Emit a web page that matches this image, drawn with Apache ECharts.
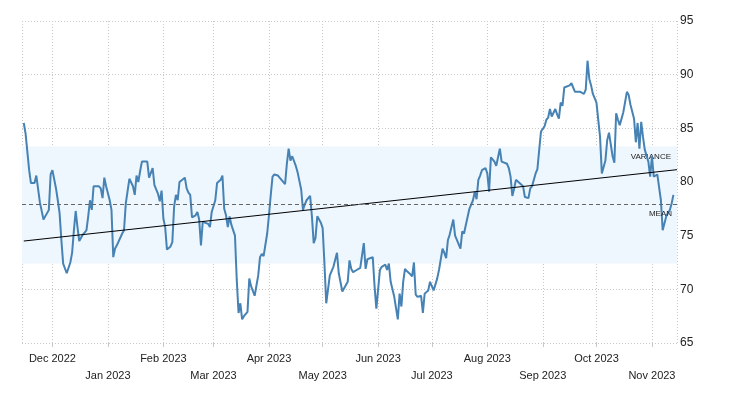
<!DOCTYPE html>
<html>
<head>
<meta charset="utf-8">
<script src="https://cdn.jsdelivr.net/npm/echarts@6/dist/echarts.min.js"></script>
<style>html,body{margin:0;padding:0;background:#fff;}#chart{width:730px;height:400px;}</style>
</head>
<body>
<div id="chart"></div>
<script>
const monthNames = ['Jan','Feb','Mar','Apr','May','Jun','Jul','Aug','Sep','Oct','Nov','Dec'];
const yTicks = [65, 70, 75, 80, 85, 90, 95];

const dates = [
'2022-11-15','2022-11-16','2022-11-18','2022-11-19','2022-11-21','2022-11-22','2022-11-24','2022-11-25','2022-11-26','2022-11-28',
'2022-11-29','2022-11-30','2022-12-01','2022-12-03','2022-12-04','2022-12-05','2022-12-06','2022-12-07','2022-12-09','2022-12-11',
'2022-12-12','2022-12-13','2022-12-14','2022-12-15','2022-12-16','2022-12-18','2022-12-20','2022-12-21','2022-12-22','2022-12-23',
'2022-12-24','2022-12-27','2022-12-28','2022-12-29','2022-12-30','2022-12-31','2023-01-02','2023-01-03','2023-01-04','2023-01-05',
'2023-01-06','2023-01-09','2023-01-10','2023-01-11','2023-01-13','2023-01-15','2023-01-16','2023-01-17','2023-01-18','2023-01-19',
'2023-01-20','2023-01-23','2023-01-24','2023-01-25','2023-01-26','2023-01-27','2023-01-29','2023-01-30','2023-01-31','2023-02-01',
'2023-02-02','2023-02-03','2023-02-05','2023-02-06','2023-02-07','2023-02-08','2023-02-09','2023-02-10','2023-02-13','2023-02-14',
'2023-02-15','2023-02-16','2023-02-17','2023-02-19','2023-02-20','2023-02-21','2023-02-22','2023-02-23','2023-02-24','2023-02-26',
'2023-02-27','2023-02-28','2023-03-02','2023-03-03','2023-03-05','2023-03-06','2023-03-07','2023-03-08','2023-03-09','2023-03-10',
'2023-03-11','2023-03-13','2023-03-14','2023-03-15','2023-03-16','2023-03-17','2023-03-18','2023-03-20','2023-03-21','2023-03-22',
'2023-03-24','2023-03-26','2023-03-27','2023-03-28','2023-03-29','2023-03-31','2023-04-01','2023-04-02','2023-04-03','2023-04-04',
'2023-04-06','2023-04-08','2023-04-10','2023-04-11','2023-04-12','2023-04-13','2023-04-14','2023-04-16','2023-04-17','2023-04-18',
'2023-04-19','2023-04-20','2023-04-21','2023-04-22','2023-04-24','2023-04-25','2023-04-26','2023-04-27','2023-04-28','2023-04-30',
'2023-05-01','2023-05-02','2023-05-03','2023-05-04','2023-05-05','2023-05-07','2023-05-09','2023-05-10','2023-05-12','2023-05-14',
'2023-05-15','2023-05-16','2023-05-17','2023-05-18','2023-05-20','2023-05-22','2023-05-24','2023-05-25','2023-05-26','2023-05-27',
'2023-05-29','2023-05-30','2023-05-31','2023-06-02','2023-06-03','2023-06-05','2023-06-06','2023-06-07','2023-06-08','2023-06-10',
'2023-06-12','2023-06-13','2023-06-14','2023-06-15','2023-06-16','2023-06-17','2023-06-19','2023-06-20','2023-06-21','2023-06-22',
'2023-06-23','2023-06-25','2023-06-26','2023-06-27','2023-06-29','2023-06-30','2023-07-01','2023-07-02','2023-07-04','2023-07-05',
'2023-07-06','2023-07-07','2023-07-08','2023-07-09','2023-07-10','2023-07-11','2023-07-13','2023-07-14','2023-07-15','2023-07-17',
'2023-07-18','2023-07-19','2023-07-20','2023-07-22','2023-07-24','2023-07-25','2023-07-26','2023-07-27','2023-07-28','2023-07-29',
'2023-07-31','2023-08-01','2023-08-02','2023-08-03','2023-08-05','2023-08-06','2023-08-07','2023-08-08','2023-08-09','2023-08-10',
'2023-08-12','2023-08-13','2023-08-14','2023-08-15','2023-08-16','2023-08-17','2023-08-19','2023-08-21','2023-08-22','2023-08-24',
'2023-08-25','2023-08-26','2023-08-27','2023-08-28','2023-08-29','2023-08-30','2023-08-31','2023-09-02','2023-09-03','2023-09-04',
'2023-09-05','2023-09-06','2023-09-08','2023-09-09','2023-09-10','2023-09-11','2023-09-12','2023-09-13','2023-09-16','2023-09-17',
'2023-09-18','2023-09-19','2023-09-22','2023-09-24','2023-09-25','2023-09-26','2023-09-27','2023-09-28','2023-09-29','2023-10-01',
'2023-10-02','2023-10-03','2023-10-04','2023-10-06','2023-10-07','2023-10-08','2023-10-10','2023-10-11','2023-10-12','2023-10-13',
'2023-10-14','2023-10-15','2023-10-16','2023-10-18','2023-10-19','2023-10-20','2023-10-22','2023-10-23','2023-10-24','2023-10-25',
'2023-10-26','2023-10-27','2023-10-28','2023-10-30','2023-10-31','2023-11-01','2023-11-02','2023-11-04','2023-11-05','2023-11-06',
'2023-11-07','2023-11-08','2023-11-09','2023-11-11','2023-11-12','2023-11-13'
];

const values = [
85.5,84.5,81.1,79.9,79.9,80.6,78.1,78.0,76.5,77.1,
77.4,80.7,81.1,79.4,78.3,77.1,74.6,72.4,71.5,72.5,
73.4,75.5,77.3,75.8,74.5,75.1,75.5,76.8,78.3,77.4,
79.6,79.6,79.4,78.5,80.4,79.6,78.3,77.4,73.0,73.8,
74.1,75.2,75.5,78.0,80.3,79.6,78.8,80.6,80.0,81.0,
81.9,81.9,80.4,80.3,81.3,79.7,78.9,78.2,79.2,76.6,
75.8,73.7,74.0,74.4,77.7,78.8,78.3,80.0,80.4,79.4,
79.0,78.8,76.7,76.9,77.2,76.5,74.1,76.3,76.4,76.1,
75.8,77.2,78.3,79.9,80.2,80.6,77.5,76.9,75.8,76.8,
76.0,75.0,70.9,67.8,68.7,67.2,67.5,67.9,71.0,70.3,
69.4,71.3,73.0,73.3,73.1,75.2,76.9,78.8,80.5,80.7,
80.6,80.2,79.8,81.7,83.1,82.0,82.4,81.5,80.9,80.9,
79.3,77.4,77.9,78.3,78.7,76.8,74.3,74.8,76.8,76.2,
75.7,72.4,68.7,68.6,71.3,72.1,73.4,71.5,69.8,70.4,
70.7,72.7,71.9,71.6,71.8,72.0,74.3,71.9,72.8,72.9,
73.0,70.3,68.2,71.8,72.1,72.3,71.8,72.4,70.7,69.3,
67.2,69.6,68.4,70.7,71.9,71.7,71.4,71.2,72.5,69.5,
69.3,69.4,67.8,69.6,69.9,70.7,70.3,69.9,71.0,71.8,
71.9,73.8,73.4,72.9,74.6,75.1,76.5,75.0,74.6,73.8,
75.4,75.2,76.0,77.5,78.3,79.1,78.4,80.2,80.6,81.1,
81.3,80.8,79.1,82.3,81.9,81.5,82.3,83.1,81.9,82.0,
81.7,81.3,80.5,78.7,79.4,80.2,79.9,79.6,78.6,78.5,
79.4,79.6,79.7,80.8,81.2,83.0,84.7,85.2,85.8,86.0,
86.8,86.1,86.8,86.3,85.9,87.4,87.1,88.8,89.0,89.2,
89.2,88.4,88.4,88.2,88.6,91.3,89.6,89.0,88.2,87.4,
87.5,84.2,80.8,82.0,83.9,84.6,82.4,81.8,86.4,85.8,
85.3,85.2,86.5,88.4,88.1,87.2,85.9,83.7,85.5,83.1,
85.6,84.2,83.0,81.9,80.5,82.4,80.5,80.7,80.8,78.3,
75.5,75.4,76.8,77.4,78.0,78.8
];

const trendDates = ['2022-11-15', '2023-11-15'];
const trendValues = [74.5, 81.15];
const meanValue = 77.9;
const varianceLow = 72.4;
const varianceHigh = 83.3;

const chart = echarts.init(document.getElementById('chart'), null, {renderer: 'canvas'});
const fontFam = '"Liberation Sans", Arial, sans-serif';

chart.setOption({
  animation: false,
  backgroundColor: '#ffffff',
  grid: {left: 22, right: 53, top: 21, bottom: 57, containLabel: false, outerBoundsMode: 'none'},
  xAxis: {
    type: 'time',
    min: '2022-11-14',
    max: '2023-11-15',
    splitNumber: 12,
    minInterval: 28 * 86400000,
    maxInterval: 31 * 86400000,
    axisLine: {show: false},
    axisTick: {show: true, length: 4, lineStyle: {color: '#c8c8c8'}},
    splitLine: {show: true, lineStyle: {color: '#c8c8c8', type: [1, 2], width: 1}},
    axisLabel: {
      color: '#222',
      fontSize: 11,
      fontFamily: fontFam,
      margin: 7,
      lineHeight: 17,
      showMinLabel: false,
      showMaxLabel: false,
      formatter: function (val) {
        const d = new Date(val);
        const m = d.getMonth();
        const txt = monthNames[m] + ' ' + d.getFullYear();
        return (m % 2 === 0 ? '\n' : '') + txt;
      }
    }
  },
  yAxis: {
    type: 'value',
    position: 'right',
    min: yTicks[0],
    max: yTicks[yTicks.length - 1],
    interval: 5,
    axisLine: {show: false},
    axisTick: {show: false},
    splitLine: {show: true, lineStyle: {color: '#c8c8c8', type: [1, 2], width: 1}},
    axisLabel: {color: '#222', fontSize: 12, fontFamily: fontFam, margin: 3}
  },
  series: [
    {
      type: 'line',
      data: dates.map((d, i) => [d, values[i]]),
      showSymbol: false,
      symbol: 'none',
      lineStyle: {color: '#4682b4', width: 2},
      z: 3,
      markArea: {
        silent: true,
        itemStyle: {color: '#eef6fe'},
        label: {show: true, position: 'insideTopRight', distance: 6, fontSize: 8, color: '#222', fontFamily: fontFam},
        data: [[{yAxis: varianceLow, name: 'VARIANCE'}, {yAxis: varianceHigh}]]
      },
      markLine: {
        silent: true,
        symbol: 'none',
        lineStyle: {color: '#666', type: [4, 3], width: 1},
        label: {show: true, position: 'insideEndBottom', distance: 5, fontSize: 8, color: '#222', fontFamily: fontFam, formatter: 'MEAN'},
        data: [{yAxis: meanValue}]
      }
    },
    {
      type: 'line',
      data: trendDates.map((d, i) => [d, trendValues[i]]),
      showSymbol: false,
      symbol: 'none',
      lineStyle: {color: '#000', width: 1},
      z: 4
    }
  ]
});
</script>
</body>
</html>
